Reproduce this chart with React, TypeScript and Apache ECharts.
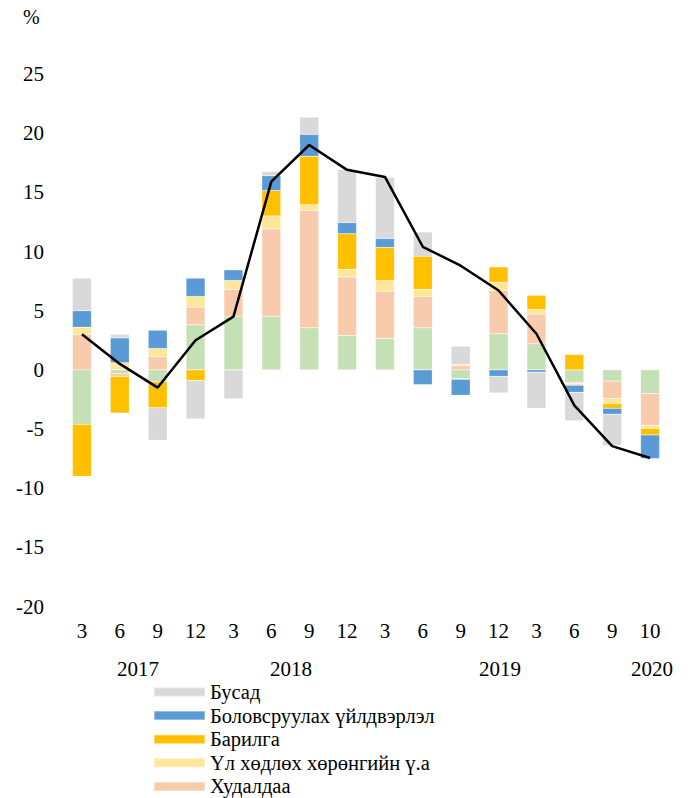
import React, { useEffect, useRef } from "react";
import * as echarts from "echarts";

const categories = ["3", "6", "9", "12", "3", "6", "9", "12", "3", "6", "9", "12", "3", "6", "9", "10"];
const yearLabels = ["2017", "2018", "2019", "2020"];

const greenVals = [-4.6, -0.3, -1.0, 3.8, 4.5, 4.5, 3.55, 2.9, 2.65, 3.55, -0.75, 3.05, 2.2, -1.05, -0.95, -2.0];
const tradeVals = [3.0, -0.25, 1.1, 1.5, 2.3, 7.4, 9.9, 4.95, 4.0, 2.65, 0.35, 3.65, 2.5, -0.1, -1.45, -2.7];
const realEstateVals = [0.6, 0.6, 0.7, 0.9, 0.75, 1.1, 0.5, 0.65, 0.9, 0.6, 0.1, 0.7, 0.4, -0.15, -0.45, -0.25];
const constructionVals = [-4.4, -3.1, -2.2, -0.9, 0, 2.15, 4.1, 3.0, 2.8, 2.8, -0.05, 1.3, 1.2, 1.3, -0.4, -0.55];
const manufacturingVals = [1.4, 2.1, 1.55, 1.55, 0.9, 1.25, 1.85, 0.95, 0.75, -1.25, -1.35, -0.55, -0.2, -0.6, -0.5, -2.0];
const otherVals = [2.75, 0.3, -2.75, -3.25, -2.45, 0.35, 1.45, 4.45, 5.15, 2.05, 1.55, -1.4, -3.05, -2.4, -2.65, 0.05];
const totalVals = [3.0, 0.5, -1.5, 2.5, 4.5, 15.9, 19.0, 16.9, 16.3, 10.4, 8.8, 6.7, 3.05, -3.0, -6.45, -7.45];

const FONT = "'Liberation Serif', 'Times New Roman', serif";

export default function App() {
  const ref = useRef<HTMLDivElement>(null);
  useEffect(() => {
    document.body.style.margin = "0";
    if (!ref.current) return;
    const chart = echarts.init(ref.current, undefined, { renderer: "svg" });
    const bar = (name: string, data: number[], color: string) => ({
      name,
      type: "bar",
      stack: "total",
      data,
      barWidth: 19,
      itemStyle: { color, borderColor: "rgba(255,255,255,0.35)", borderWidth: 0.5 },
    });
    const yearX = [138, 291, 500, 652];
    chart.setOption({
      animation: false,
      textStyle: { fontFamily: FONT },
      grid: { left: 63, right: 23, top: 74, bottom: 191.5, containLabel: false },
      xAxis: {
        type: "category",
        data: categories,
        axisLine: { show: false, onZero: false },
        axisTick: { show: false },
        axisLabel: { color: "#000", fontSize: 21, fontFamily: FONT, margin: 14, interval: 0 },
      },
      yAxis: {
        type: "value",
        min: -20,
        max: 25,
        interval: 5,
        axisLine: { show: false },
        axisTick: { show: false },
        splitLine: { show: false },
        axisLabel: { color: "#000", fontSize: 21, fontFamily: FONT, margin: 19 },
      },
      legend: {
        data: ["Бусад", "Боловсруулах үйлдвэрлэл", "Барилга", "Үл хөдлөх хөрөнгийн ү.а", "Худалдаа"],
        orient: "vertical",
        left: 153,
        top: 681.5,
        height: 300,
        padding: 0,
        itemWidth: 51,
        itemHeight: 9,
        itemGap: 2.6,
        icon: "rect",
        textStyle: { color: "#000", fontSize: 20.5, fontFamily: FONT, lineHeight: 21 },
      },
      graphic: [
        { type: "text", left: 23, top: 7, style: { text: "%", fontSize: 20, fontFamily: FONT, fill: "#000" } },
        ...yearLabels.map((t, i) => ({
          type: "text",
          x: yearX[i],
          y: 669,
          style: { text: t, fontSize: 21, fontFamily: FONT, fill: "#000", align: "center", verticalAlign: "middle" },
        })),
      ],
      series: [
        bar("Хөдөө аж ахуй", greenVals, "#C5E0B4"),
        bar("Худалдаа", tradeVals, "#F8CBAD"),
        bar("Үл хөдлөх хөрөнгийн ү.а", realEstateVals, "#FFE699"),
        bar("Барилга", constructionVals, "#FFC000"),
        bar("Боловсруулах үйлдвэрлэл", manufacturingVals, "#5B9BD5"),
        bar("Бусад", otherVals, "#D9D9D9"),
        {
          name: "Нийт",
          type: "line",
          data: totalVals,
          symbol: "none",
          lineStyle: { color: "#000", width: 2.5 },
          itemStyle: { color: "#000" },
          z: 10,
        },
      ],
    });
    return () => chart.dispose();
  }, []);
  return <div ref={ref} style={{ width: 692, height: 798 }} />;
}
